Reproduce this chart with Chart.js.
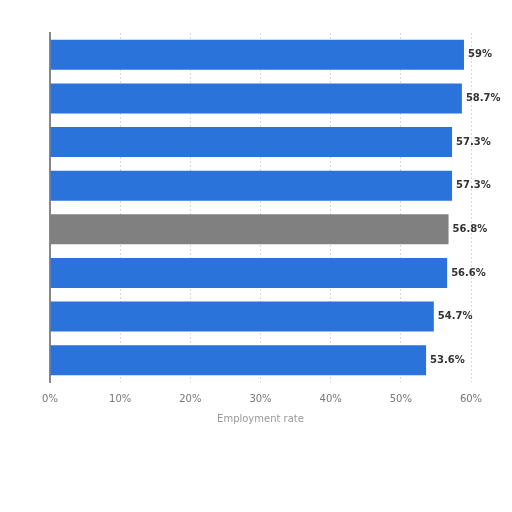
<!DOCTYPE html>
<html>
<head>
<meta charset="utf-8">
<script src="https://cdn.jsdelivr.net/npm/chart.js@4"></script>
<style>
html,body{margin:0;padding:0;background:#fff;}
#wrap{width:512px;height:512px;}
</style>
</head>
<body>
<div id="wrap"><canvas id="c" width="512" height="512"></canvas></div>
<script>
const categories = ["A","B","C","D","E","F","G","H"];
const values = [59, 58.7, 57.3, 57.3, 56.8, 56.6, 54.7, 53.6];
const barColors = ["#2a73da","#2a73da","#2a73da","#2a73da","#808080","#2a73da","#2a73da","#2a73da"];
const tickValues = [0,10,20,30,40,50,60];
const axisTitle = "Employment rate";

const labelPlugin = {
  id: 'valLabels',
  afterDatasetsDraw(chart){
    const ctx = chart.ctx;
    const meta = chart.getDatasetMeta(0);
    ctx.save();
    ctx.font = "bold 10px 'DejaVu Sans', sans-serif";
    ctx.fillStyle = "#333";
    ctx.textAlign = "left";
    ctx.textBaseline = "middle";
    meta.data.forEach((bar,i)=>{
      ctx.fillText(values[i] + "%", bar.x + 4, bar.y);
    });
    ctx.restore();
  }
};

new Chart(document.getElementById('c'), {
  type: 'bar',
  data: {
    labels: categories,
    datasets: [{
      data: values,
      backgroundColor: barColors,
      borderWidth: 0,
      barPercentage: 0.69,
      categoryPercentage: 1.0
    }]
  },
  options: {
    indexAxis: 'y',
    responsive: false,
    animation: false,
    layout: { padding: { left: 50, top: 33, right: 41, bottom: 87 } },
    plugins: { legend: { display: false }, tooltip: { enabled: false } },
    scales: {
      x: {
        min: 0, max: 60,
        afterBuildTicks(scale){ scale.ticks = tickValues.map(v=>({value:v})); },
        ticks: {
          callback: v => v + "%",
          color: "#777",
          font: { size: 10, family: "'DejaVu Sans', sans-serif" },
          padding: 11
        },
        grid: { color: "#d8d8d8", drawTicks: false },
        border: { display: false, dash: [2,2] },
        title: { display: true, text: axisTitle, color: "#999", font: { size: 10, family: "'DejaVu Sans', sans-serif" }, padding: { top: -3, bottom: 0 } }
      },
      y: {
        ticks: { display: false },
        grid: { display: false, drawTicks: false },
        border: { display: true, color: "#888", width: 2 }
      }
    }
  },
  plugins: [labelPlugin]
});
</script>
</body>
</html>
